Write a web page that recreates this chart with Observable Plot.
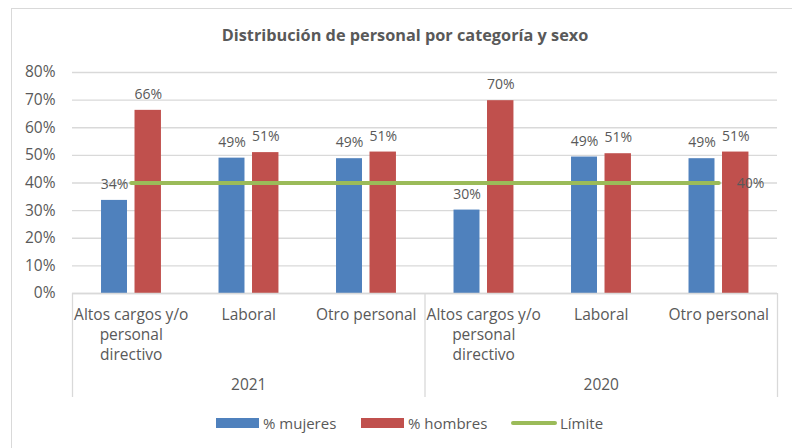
<!DOCTYPE html>
<html><head><meta charset="utf-8">
<script src="https://cdn.jsdelivr.net/npm/d3@7"></script>
<script src="https://cdn.jsdelivr.net/npm/@observablehq/plot@0.6"></script>
<style>
body{margin:0;background:#fff;font-family:"Open Sans",sans-serif;}
#wrap{position:relative;width:792px;height:448px;overflow:hidden;background:#fff;}
#frame{position:absolute;left:11px;top:8px;width:820px;height:500px;border:1px solid #d9d9d9;box-sizing:border-box;}
#title{position:absolute;top:24px;left:11px;width:788px;text-align:center;font-weight:bold;font-size:16.3px;color:#595959;line-height:22px;}
#chart{position:absolute;left:0;top:0;}
#legend{position:absolute;top:412px;left:0;width:792px;height:22px;font-size:15px;color:#595959;}
.sw{position:absolute;}
.lt{position:absolute;top:0;line-height:22px;}
</style></head>
<body><div id="wrap"><div id="frame"></div><div id="title"></div><div id="chart"></div><div id="legend"></div></div>
<script>
const title = "Distribución de personal por categoría y sexo";
const years = ["2021", "2020"];
const categories = ["Altos cargos y/o\npersonal\ndirectivo", "Laboral", "Otro personal"];
const mujeres = [0.337, 0.490, 0.488, 0.302, 0.494, 0.488];
const hombres = [0.663, 0.510, 0.512, 0.698, 0.506, 0.512];
const limite = [0.4, 0.4, 0.4, 0.4, 0.4, 0.4];
const seriesNames = ["% mujeres", "% hombres", "Límite"];
const colors = ["#4F81BD", "#C0504D", "#9BBB59"];
const yTicks = [0, 0.1, 0.2, 0.3, 0.4, 0.5, 0.6, 0.7, 0.8];

document.getElementById("title").textContent = title;

const slots = [];
years.forEach((yr, yi) => categories.forEach((c, ci) => slots.push({i: yi * categories.length + ci, year: yr, cat: c})));
const rows = [];
slots.forEach(s => {
  rows.push({i: s.i, serie: seriesNames[0], value: mujeres[s.i], o1: -0.253, o2: -0.032});
  rows.push({i: s.i, serie: seriesNames[1], value: hombres[s.i], o1: 0.032, o2: 0.257});
});
const lineRows = slots.map(s => ({x: s.i + 0.5, y: limite[s.i]}));
const yearRows = years.map((yr, yi) => ({x: yi * categories.length + categories.length / 2, label: yr}));
const seps = d3.range(0, slots.length + 1, categories.length);
const fmt = d3.format(".0%");
const pxPerUnit = (293 - 72) / 0.8;

const chart = Plot.plot({
  width: 792, height: 448,
  marginLeft: 72, marginRight: 15, marginTop: 72, marginBottom: 155,
  style: {fontFamily: "'Open Sans', sans-serif", fontSize: "15.5px", color: "#595959", background: "transparent"},
  x: {type: "linear", domain: [0, slots.length], axis: null},
  y: {domain: [0, 0.8], axis: null},
  marks: [
    Plot.gridY(yTicks, {stroke: "#d9d9d9", strokeOpacity: 1, strokeWidth: 1.3}),
    Plot.axisY(yTicks, {tickSize: 0, tickPadding: 17, tickFormat: fmt, fill: "#595959", fontSize: 15.5, label: null}),
    Plot.ruleX(seps, {y1: 0, y2: -104 / pxPerUnit, stroke: "#d9d9d9", strokeWidth: 1.3}),
    Plot.rectY(rows, {x1: d => d.i + 0.5 + d.o1, x2: d => d.i + 0.5 + d.o2, y: "value", fill: d => d.serie === seriesNames[0] ? colors[0] : colors[1]}),
    Plot.lineY(lineRows, {x: "x", y: "y", stroke: colors[2], strokeWidth: 4, strokeLinecap: "round"}),
    Plot.text(rows, {x: d => d.i + 0.5 + (d.o1 + d.o2) / 2, y: "value", text: d => fmt(d.value), dy: -16, fill: "#595959", fontSize: 14}),
    Plot.text(lineRows.slice(-1), {x: "x", y: "y", text: d => fmt(d.y), dx: 18, dy: 1, textAnchor: "start", fill: "#595959", fontSize: 14}),
    Plot.text(slots, {x: d => d.i + 0.5, y: () => 0, text: "cat", lineAnchor: "top", dy: 12, lineHeight: 1.3, fill: "#595959", fontSize: 15.5}),
    Plot.text(yearRows, {x: "x", y: () => 0, text: "label", lineAnchor: "top", dy: 85, fill: "#595959", fontSize: 15.5}),
    Plot.ruleY([0], {stroke: "#d9d9d9", strokeWidth: 1.3})
  ]
});
document.getElementById("chart").appendChild(chart);

const legend = document.getElementById("legend");
const items = [
  {sw: {left: 216, top: 6, width: 43, height: 10, background: colors[0]}, tx: 263, name: seriesNames[0]},
  {sw: {left: 361, top: 6, width: 43, height: 10, background: colors[1]}, tx: 408, name: seriesNames[1]},
  {sw: {left: 511, top: 9, width: 46, height: 4, background: colors[2], borderRadius: "2px"}, tx: 560, name: seriesNames[2]}
];
items.forEach(it => {
  const s = document.createElement("div"); s.className = "sw";
  Object.entries(it.sw).forEach(([k, v]) => s.style[k] = typeof v === "number" ? v + "px" : v);
  legend.appendChild(s);
  const t = document.createElement("div"); t.className = "lt"; t.style.left = it.tx + "px"; t.textContent = it.name;
  legend.appendChild(t);
});
</script></body></html>
